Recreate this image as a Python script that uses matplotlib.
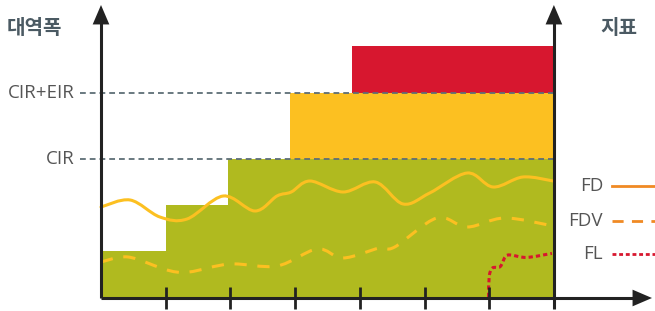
import numpy as np
import matplotlib.pyplot as plt
from matplotlib.path import Path
from matplotlib.patches import PathPatch

# bandwidth blocks (x in time units, y in bandwidth units)
green_left = [0.0, 1.0, 1.96]
green_width = [1.0, 0.96, 5.04]
green_height = [2.35, 4.65, 6.95]
cir = 6.95
cir_eir = 10.27
yellow_left = 2.92
red_left = 3.88
red_top = 12.6
x_end = 7.0

tick_x = [1, 2, 3, 4, 5, 6]

# curves
fd_x = [0.0, 0.45, 0.91, 1.33, 1.89, 2.38, 2.72, 2.94, 3.23, 3.74, 4.24, 4.67, 5.08, 5.66, 6.06, 6.52, 6.99]
fd_y = [4.55, 4.9, 4.05, 3.95, 5.1, 4.35, 5.1, 5.3, 5.85, 5.3, 5.8, 4.7, 5.25, 6.25, 5.55, 6.05, 5.85]

fdv_x = [0.0, 0.42, 1.02, 1.36, 1.99, 2.72, 3.34, 3.74, 4.3, 4.54, 5.19, 5.66, 6.24, 6.99]
fdv_y = [1.8, 2.05, 1.4, 1.3, 1.7, 1.6, 2.45, 2.0, 2.5, 2.55, 4.0, 3.55, 4.0, 3.6]

fl_x = [5.99, 6.0, 6.05, 6.17, 6.25, 6.33, 6.58, 6.97]
fl_y = [0.05, 1.07, 1.5, 1.57, 2.07, 2.15, 2.03, 2.23]

GREEN = "#B0BA1F"
YELLOW = "#FCC021"
RED = "#D7172F"
ORANGE = "#F08A24"
GRID = "#5E6E76"
AXIS = "#222222"
TEXT = "#555555"
TITLE = "#4B5A63"

PX_X = 64.7  # pixels per x unit
PX_Y = 20.0  # pixels per y unit


def smooth_path(xs, ys):
    # Catmull-Rom through the points, drawn as cubic bezier segments
    pts = np.column_stack([xs, ys])
    verts = [pts[0]]
    codes = [Path.MOVETO]
    n = len(pts)
    for i in range(n - 1):
        p0 = pts[max(i - 1, 0)]
        p1 = pts[i]
        p2 = pts[i + 1]
        p3 = pts[min(i + 2, n - 1)]
        verts += [p1 + (p2 - p0) / 6, p2 - (p3 - p1) / 6, p2]
        codes += [Path.CURVE4] * 3
    return Path(verts, codes)


plt.rcParams["font.family"] = ["Open Sans", "DejaVu Sans"]

fig = plt.figure(figsize=(6.55, 3.11), dpi=100)
ax = fig.add_axes([0, 0, 1, 1])
ax.set_xlim(-101 / PX_X, (655 - 101) / PX_X)
ax.set_ylim(-13 / PX_Y, 298 / PX_Y)
ax.axis("off")

# blocks
ax.bar(green_left, green_height, width=green_width, align="edge", color=GREEN, zorder=1)
ax.bar(yellow_left, cir_eir - cir, width=x_end - yellow_left, bottom=cir,
       align="edge", color=YELLOW, zorder=1)
ax.bar(red_left, red_top - cir_eir, width=x_end - red_left, bottom=cir_eir,
       align="edge", color=RED, zorder=1)

# reference levels
for lvl, lab in [(cir, "CIR"), (cir_eir, "CIR+EIR")]:
    ax.plot([-21 / PX_X, x_end], [lvl, lvl], color=GRID, lw=1.3,
            dashes=(3.2, 2.2), zorder=3)
    ax.text(-26 / PX_X, lvl, lab, ha="right", va="center", fontsize=13.5,
            color=TEXT)

# curves
ax.add_patch(PathPatch(smooth_path(fd_x, fd_y), fill=False, ec=YELLOW, lw=2.2,
                       capstyle="round", zorder=4))
ax.add_patch(PathPatch(smooth_path(fdv_x, fdv_y), fill=False, ec=YELLOW, lw=2.2,
                       linestyle=(0, (4, 3.5)), zorder=4))
ax.add_patch(PathPatch(smooth_path(fl_x, fl_y), fill=False, ec=RED, lw=2.2,
                       linestyle=(0, (1.4, 1.0)), zorder=4))

# axes with arrows
ax.plot([0, 0], [0, 280 / PX_Y], color=AXIS, lw=2.2, solid_capstyle="butt", zorder=5)
ax.plot([0, 535 / PX_X], [0, 0], color=AXIS, lw=2.2, solid_capstyle="butt", zorder=5)
ax.plot([x_end, x_end], [-11 / PX_Y, 280 / PX_Y], color=AXIS, lw=2.2,
        solid_capstyle="butt", zorder=5)
arrow = dict(arrowstyle="-|>,head_length=1.4,head_width=0.6", color=AXIS,
             lw=0, shrinkA=0, shrinkB=0)
for xy, xyt in [((0, 293 / PX_Y), (0, 270 / PX_Y)),
                ((x_end, 293 / PX_Y), (x_end, 270 / PX_Y)),
                ((551 / PX_X, 0), (520 / PX_X, 0))]:
    ax.annotate("", xy=xy, xytext=xyt, arrowprops=arrow, zorder=6,
                annotation_clip=False)

for tx in tick_x:
    ax.plot([tx, tx], [11 / PX_Y, -11 / PX_Y], color=AXIS, lw=2.0,
            solid_capstyle="butt", zorder=5)

# titles
ax.text(-94 / PX_X, 271 / PX_Y, "대역폭", fontsize=14.5, fontweight="bold",
        color=TITLE, family=["Noto Sans CJK KR", "DejaVu Sans"], va="center")
ax.text(499 / PX_X, 271 / PX_Y, "지표", fontsize=14.5, fontweight="bold",
        color=TITLE, family=["Noto Sans CJK KR", "DejaVu Sans"], va="center")

# legend
legend_items = [("FD", ORANGE, "-"), ("FDV", ORANGE, (0, (4, 3))), ("FL", RED, (0, (1.4, 1.0)))]
legend_y = [112, 77, 44]
for (lab, col, ls), ly in zip(legend_items, legend_y):
    ax.text(502 / PX_X, ly / PX_Y, lab, ha="right", va="center", fontsize=13.5,
            color=TEXT)
    ax.plot([511 / PX_X, 554 / PX_X], [ly / PX_Y, ly / PX_Y], color=col, lw=2.0,
            linestyle=ls, clip_on=False, zorder=4)

fig.savefig("out.png", dpi=100)
